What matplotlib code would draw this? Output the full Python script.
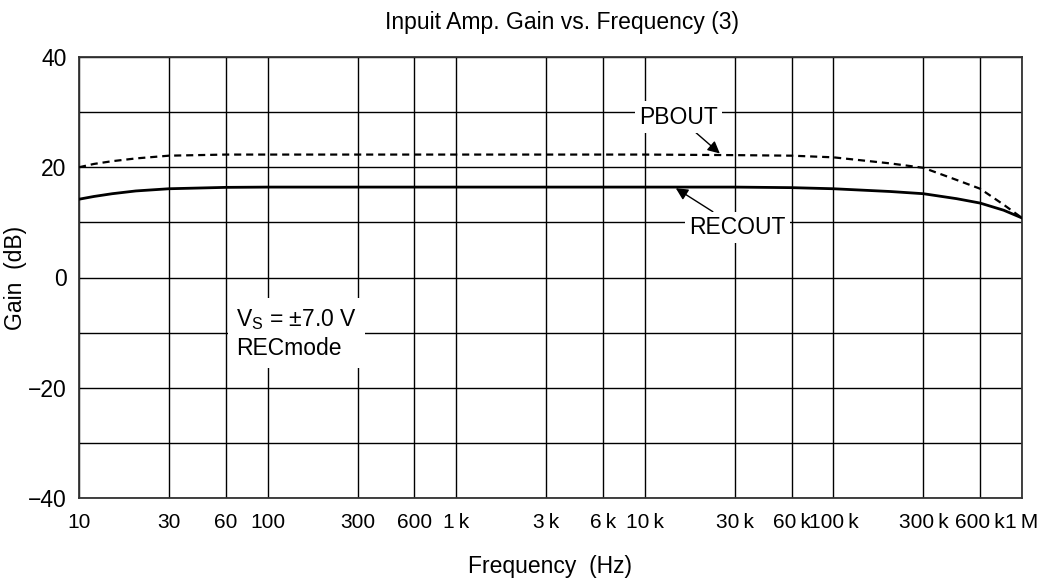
import numpy as np
from matplotlib import pyplot as plt

plt.rcParams['font.family'] = ['Liberation Sans', 'DejaVu Sans']
plt.rcParams['mathtext.fontset'] = 'custom'
plt.rcParams['mathtext.rm'] = 'Liberation Sans'
plt.rcParams['mathtext.it'] = 'Liberation Sans'

# 주파수 (Hz)
freq = [10, 12, 15, 20, 30, 60, 100, 1e3, 1e4, 3e4, 6e4, 1e5, 2e5, 3e5, 4.5e5, 6e5, 8e5, 1e6]
# 게인 (dB)
pbout = [20.0, 20.6, 21.1, 21.6, 22.1, 22.3, 22.3, 22.3, 22.3, 22.2, 22.1, 21.8, 20.7, 19.9, 17.7, 16.1, 13.2, 10.8]
recout = [14.2, 14.7, 15.2, 15.7, 16.1, 16.35, 16.4, 16.4, 16.4, 16.4, 16.3, 16.1, 15.6, 15.2, 14.3, 13.5, 12.2, 10.8]

xticks = [10, 30, 60, 100, 300, 600, 1e3, 3e3, 6e3, 1e4, 3e4, 6e4, 1e5, 3e5, 6e5, 1e6]
xlabels = ['10', '30', '60', '100', '300', '600', '1\u2009k', '3\u2009k', '6\u2009k', '10\u2009k',
           '30\u2009k', '60\u2009k', '100\u2009k', '300\u2009k', '600\u2009k', '1\u2009M']
yticks = [-40, -30, -20, -10, 0, 10, 20, 30, 40]
ylabels = ['\u221240', '', '\u221220', '', '0', '', '20', '', '40']

fs = 16.5

fig = plt.figure(figsize=(10.55, 5.79), dpi=100)
ax = fig.add_axes([79/1055, 1 - 498/579, 943/1055, 441/579])

ax.plot(freq, pbout, color='k', lw=1.6, ls=(0, (3.2, 2.2)), zorder=3)
ax.plot(freq, recout, color='k', lw=2.0, zorder=3)

ax.set_xscale('log')
ax.set_xlim(10, 1e6)
ax.set_ylim(-40, 40)
ax.set_xticks(xticks)
ax.set_xticklabels(xlabels)
ax.xaxis.set_minor_locator(plt.NullLocator())
ax.set_yticks(yticks)
ax.set_yticklabels(ylabels)
ax.tick_params(length=0, labelsize=fs)
ax.tick_params(axis='x', pad=11, labelsize=15)
ax.tick_params(axis='y', pad=9)
ax.grid(True, color='k', lw=1.0, zorder=1)
ax.set_axisbelow(True)
for s in ax.spines.values():
    s.set_linewidth(1.3)
    s.set_color('#333333')

ax.set_xlabel('Frequency  (Hz)', fontsize=fs)
ax.xaxis.set_label_coords(0.5, -0.13)
ax.set_ylabel('Gain  (dB)', fontsize=fs)
ax.yaxis.set_label_coords(-0.055, 0.5)

fig.text(562/1055, 1 - 22/579, 'Inpuit Amp. Gain vs. Frequency (3)',
         fontsize=fs, ha='center', va='center')

box = dict(facecolor='white', edgecolor='none', pad=3)
arrow = dict(arrowstyle='-|>', color='k', lw=1.0, mutation_scale=18, shrinkA=0, shrinkB=0)

ax.annotate('PBOUT', xy=(2.5e4, 22.5), xytext=(1.5e4, 29.1), fontsize=fs,
            ha='center', va='center', bbox=box, arrowprops=arrow, zorder=4)
ax.annotate('RECOUT', xy=(1.46e4, 16.2), xytext=(3.1e4, 9.1), fontsize=fs,
            ha='center', va='center', bbox=box, arrowprops=arrow, zorder=4)

ax.text(68, -10.2, 'V$_\\mathregular{S}$ = \u00b17.0 V\nRECmode', fontsize=fs,
        ha='left', va='center', linespacing=1.25,
        bbox=dict(facecolor='white', edgecolor='none', pad=6), zorder=4)

fig.savefig('out.png', dpi=100)
